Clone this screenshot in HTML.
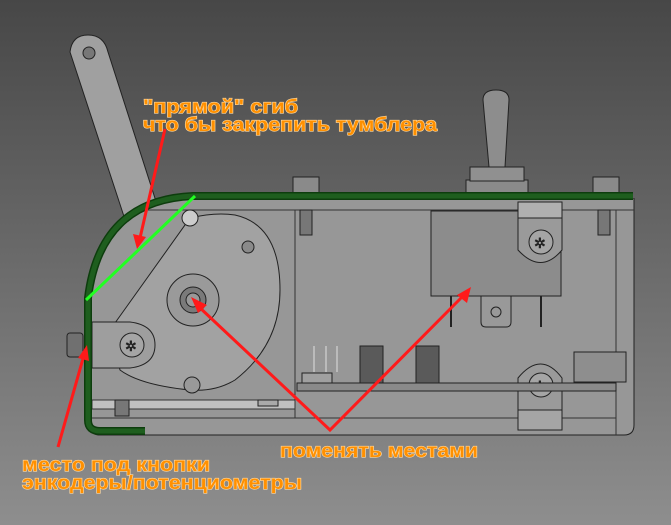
<!DOCTYPE html>
<html><head><meta charset="utf-8"><style>
html,body{margin:0;padding:0;width:671px;height:525px;overflow:hidden}
svg{display:block}
text{font-family:"Liberation Sans",sans-serif;font-weight:bold;font-size:19px;fill:#ff9000;stroke:#ffd9a0;stroke-width:1.2;paint-order:stroke}
</style></head><body>
<svg width="671" height="525" viewBox="0 0 671 525" xmlns="http://www.w3.org/2000/svg">
<defs>
<linearGradient id="bg" x1="0" y1="0" x2="0" y2="1">
<stop offset="0" stop-color="#474747"/><stop offset="1" stop-color="#8e8e8e"/>
</linearGradient>
<clipPath id="box"><path d="M193,198 L640,198 L640,440 L90,440 L90,298 Q102,205 193,198 Z"/></clipPath>
</defs>
<rect width="671" height="525" fill="url(#bg)"/>
<!-- lever -->
<path d="M70,52 Q72,35 88,35 Q104,35 108,52 L170,245 L135,250 Z" fill="#a0a0a0" stroke="#222" stroke-width="1"/>
<circle cx="89" cy="53" r="6" fill="#777" stroke="#222"/>
<!-- toggle -->
<rect x="466" y="180" width="62" height="14" fill="#8a8a8a" stroke="#222"/>
<rect x="470" y="167" width="54" height="14" fill="#909090" stroke="#222"/>
<path d="M483,100 Q483,90 496,90 Q509,90 509,100 L505,167 L489,167 Z" fill="#8d8d8d" stroke="#222"/>
<!-- top screws -->
<rect x="293" y="177" width="26" height="16" fill="#8a8a8a" stroke="#222"/>
<rect x="593" y="177" width="26" height="16" fill="#8a8a8a" stroke="#222"/>
<g clip-path="url(#box)">
<path d="M193,198 L634,198 L634,425 Q634,435 624,435 L100,435 Q90,435 90,425 L90,298 Q102,205 193,198 Z" fill="#979797" stroke="#222"/>
<line x1="295" y1="210" x2="295" y2="418" stroke="#333"/>
<line x1="92" y1="210" x2="634" y2="210" stroke="#333"/>
<line x1="92" y1="418" x2="616" y2="418" stroke="#333"/>
<line x1="616" y1="210" x2="616" y2="435" stroke="#333"/>
<!-- relay -->
<rect x="431" y="211" width="130" height="85" fill="#8c8c8c" stroke="#222"/>
<path d="M481,296 L511,296 L511,322 Q511,327 506,327 L486,327 Q481,327 481,322 Z" fill="#999" stroke="#222"/>
<circle cx="496" cy="312" r="5" fill="none" stroke="#222"/>
<line x1="451" y1="296" x2="451" y2="327" stroke="#222" stroke-width="2"/>
<line x1="541" y1="296" x2="541" y2="327" stroke="#222" stroke-width="2"/>
<!-- clamps -->
<rect x="518" y="202" width="44" height="20" fill="#b0b0b0" stroke="#222"/>
<path d="M518,218 L562,218 L562,250 Q541,275 518,250 Z" fill="#9a9a9a" stroke="#222"/>
<circle cx="541" cy="242" r="12" fill="#a5a5a5" stroke="#222"/>
<text x="534" y="248" style="font-size:14px;fill:#222;stroke:none">✲</text>
<path d="M518,410 L562,410 L562,378 Q541,350 518,378 Z" fill="#9a9a9a" stroke="#222"/>
<circle cx="541" cy="385" r="12" fill="#a5a5a5" stroke="#222"/>
<text x="534" y="391" style="font-size:14px;fill:#222;stroke:none">✲</text>
<rect x="518" y="410" width="44" height="20" fill="#a5a5a5" stroke="#222"/>
<!-- PCB -->
<rect x="297" y="383" width="319" height="8" fill="#8a8a8a" stroke="#222"/>
<rect x="360" y="346" width="23" height="37" fill="#5a5a5a" stroke="#222"/>
<rect x="416" y="346" width="23" height="37" fill="#5a5a5a" stroke="#222"/>
<line x1="314" y1="346" x2="314" y2="372" stroke="#bbb" stroke-width="2"/>
<line x1="326" y1="346" x2="326" y2="372" stroke="#bbb" stroke-width="2"/>
<line x1="337" y1="346" x2="337" y2="372" stroke="#bbb" stroke-width="2"/>
<rect x="302" y="373" width="30" height="10" fill="#a0a0a0" stroke="#222"/>
<rect x="574" y="352" width="52" height="30" fill="#8e8e8e" stroke="#222"/>
<!-- bottom bar -->
<rect x="92" y="400" width="203" height="9" fill="#c0c0c0" stroke="#333"/>
<rect x="115" y="400" width="14" height="16" fill="#777" stroke="#222"/>
<rect x="258" y="400" width="20" height="6" fill="#aaa" stroke="#222"/>
<rect x="300" y="210" width="12" height="25" fill="#777" stroke="#222"/>
<rect x="598" y="210" width="12" height="25" fill="#777" stroke="#222"/>
<!-- cam plate -->
<path d="M190,218 Q215,212 235,215 Q280,225 280,290 Q280,345 235,380 Q215,392 190,390 Q140,385 120,370 L110,330 Z" fill="#a2a2a2" stroke="#222"/>
<circle cx="193" cy="300" r="26" fill="#9a9a9a" stroke="#222"/>
<circle cx="193" cy="300" r="13" fill="#7a7a7a" stroke="#222"/>
<circle cx="193" cy="300" r="7" fill="#999" stroke="#222"/>
<circle cx="248" cy="247" r="6" fill="#8a8a8a" stroke="#222"/>
<circle cx="190" cy="218" r="8" fill="#ccc" stroke="#222"/>
<circle cx="192" cy="385" r="8" fill="#999" stroke="#222"/>
<!-- left clamp -->
<path d="M92,322 L130,322 Q155,325 155,345 Q155,365 130,368 L92,368 Z" fill="#9e9e9e" stroke="#222"/>
<circle cx="132" cy="345" r="12" fill="#a5a5a5" stroke="#222"/>
<text x="125" y="351" style="font-size:14px;fill:#222;stroke:none">✲</text>
</g>
<rect x="67" y="333" width="16" height="24" rx="3" fill="#707070" stroke="#222"/>
<!-- green bend -->
<path d="M633,196 L193,196 Q100,200 88,298 L88,420 Q88,431 100,431 L145,431" fill="none" stroke="#0d3d0d" stroke-width="8"/>
<path d="M633,196 L193,196 Q100,200 88,298 L88,420 Q88,431 100,431 L145,431" fill="none" stroke="#1e5e1e" stroke-width="5"/>
<line x1="86" y1="300" x2="195" y2="196" stroke="#22ff22" stroke-width="3"/>
<!-- red arrows -->
<g stroke="#ff1a1a" stroke-width="3" fill="none">
<line x1="165" y1="129" x2="140" y2="238"/>
<line x1="58" y1="447" x2="84" y2="355"/>
<polyline points="198,306 330,430 462,297"/>
</g>
<g fill="#ff1a1a">
<polygon points="137,249 133,234 146,237"/>
<polygon points="87,345 89,361 78,358"/>
<polygon points="191,297 207,305 198,313"/>
<polygon points="471,287 467,303 457,295"/>
</g>
<!-- labels -->
<text x="143" y="113" textLength="155" lengthAdjust="spacingAndGlyphs">"прямой" сгиб</text>
<text x="143" y="131" textLength="294" lengthAdjust="spacingAndGlyphs">что бы закрепить тумблера</text>
<text x="280" y="457" textLength="198" lengthAdjust="spacingAndGlyphs">поменять местами</text>
<text x="22" y="471" textLength="188" lengthAdjust="spacingAndGlyphs">место под кнопки</text>
<text x="22" y="489" textLength="280" lengthAdjust="spacingAndGlyphs">энкодеры/потенциометры</text>
</svg>
</body></html>
